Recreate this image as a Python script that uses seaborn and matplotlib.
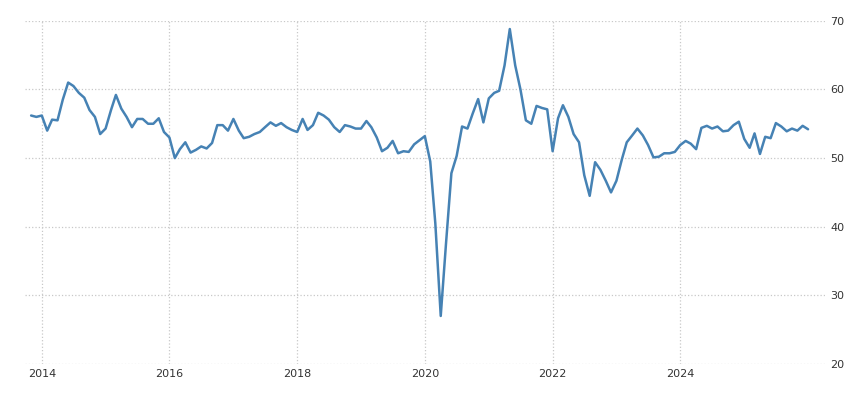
import pandas as pd
import matplotlib.pyplot as plt
import matplotlib.dates as mdates
import seaborn as sns

values = [
    56.2, 56.0,
    56.2, 54.0, 55.6, 55.5, 58.5, 61.0, 60.5, 59.5, 58.8, 57.0, 56.0, 53.5,
    54.3, 57.0, 59.2, 57.2, 56.0, 54.5, 55.7, 55.7, 55.0, 55.0, 55.8, 53.8,
    53.0, 50.0, 51.3, 52.3, 50.8, 51.2, 51.7, 51.4, 52.2, 54.8, 54.8, 54.0,
    55.7, 54.0, 52.9, 53.1, 53.5, 53.8, 54.5, 55.2, 54.7, 55.1, 54.5, 54.1,
    53.8, 55.7, 54.1, 54.8, 56.6, 56.2, 55.6, 54.5, 53.8, 54.8, 54.6, 54.3,
    54.3, 55.4, 54.5, 53.0, 51.0, 51.5, 52.5, 50.7, 51.0, 50.9, 52.0, 52.6,
    53.2, 49.5, 40.5, 27.0, 37.5, 47.8, 50.3, 54.6, 54.3, 56.5, 58.6, 55.2,
    58.7, 59.5, 59.8, 63.5, 68.8, 63.5, 60.0, 55.5, 55.0, 57.6, 57.3, 57.1,
    51.0, 55.8, 57.7, 56.0, 53.5, 52.3, 47.5, 44.5, 49.4, 48.3, 46.7, 45.0,
    46.7, 49.8, 52.3, 53.3, 54.3, 53.3, 51.9, 50.1, 50.2, 50.7, 50.7, 50.9,
    51.9, 52.5, 52.1, 51.3, 54.4, 54.7, 54.3, 54.6, 53.9, 54.0, 54.8, 55.3,
    52.8, 51.5, 53.6, 50.6, 53.1, 52.9, 55.1, 54.6, 53.9, 54.3, 54.0, 54.7, 54.2,
]
dates = pd.date_range("2013-11-01", periods=len(values), freq="MS")
df = pd.DataFrame({"date": dates, "value": values})
years = [2014, 2016, 2018, 2020, 2022, 2024]

sns.set_theme(style="white")
plt.rcParams['font.family'] = ['DejaVu Sans']

fig, ax = plt.subplots(figsize=(8.5, 4), dpi=100)
sns.lineplot(data=df, x="date", y="value", ax=ax, color="#4682b4", linewidth=1.8)

ax.set_ylim(20, 70)
ax.set_yticks([20, 30, 40, 50, 60, 70])
ax.set_xlim(pd.Timestamp("2013-09-25"), pd.Timestamp("2026-04-10"))
ax.set_xticks([pd.Timestamp(f"{y}-01-01") for y in years])
ax.xaxis.set_major_formatter(mdates.DateFormatter("%Y"))
ax.yaxis.tick_right()
ax.grid(True, linestyle=":", color="#c8c8c8", linewidth=0.9)
for s in ax.spines.values():
    s.set_visible(False)
ax.tick_params(axis="both", labelsize=8, colors="#333333", length=0)
ax.set_xlabel("")
ax.set_ylabel("")

plt.subplots_adjust(left=0.029, right=0.971, top=0.948, bottom=0.09)
plt.savefig("out.png", dpi=100)
